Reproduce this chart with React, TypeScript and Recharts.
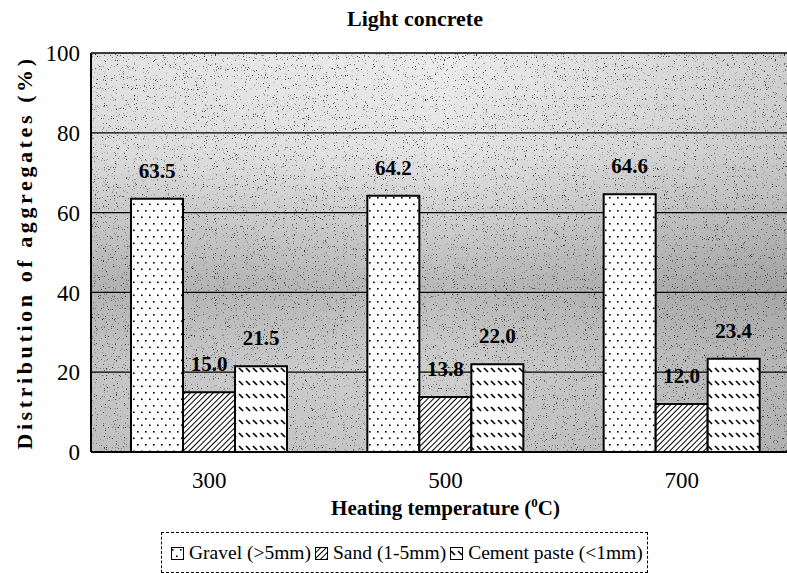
import { BarChart, Bar, XAxis, YAxis, CartesianGrid, LabelList, Legend } from "recharts";

const temps = ["300", "500", "700"];
const gravel = [63.5, 64.2, 64.6];
const sand = [15.0, 13.8, 12.0];
const cement = [21.5, 22.0, 23.4];
const yTicks = [0, 20, 40, 60, 80, 100];

const seriesNames = ["Gravel (>5mm)", "Sand (1-5mm)", "Cement paste (<1mm)"];
const seriesFills = ["url(#dots)", "url(#hatch)", "url(#dashes)"];

const data = temps.map((t, i) => ({ temp: t, gravel: gravel[i], sand: sand[i], cement: cement[i] }));

const FONT = "'Liberation Serif', 'Times New Roman', serif";

function Patterns() {
  return (
    <defs>
      <pattern id="dots" patternUnits="userSpaceOnUse" width="8" height="13">
        <rect width="8" height="13" fill="#fff" />
        <rect x="1" y="2" width="1.6" height="1.6" fill="#000" />
        <rect x="5" y="8.5" width="1.6" height="1.6" fill="#000" />
      </pattern>
      <pattern id="hatch" patternUnits="userSpaceOnUse" width="4" height="4" patternTransform="rotate(45)">
        <rect width="4" height="4" fill="#fff" />
        <line x1="0" y1="0" x2="0" y2="4" stroke="#000" strokeWidth="2" />
      </pattern>
      <pattern id="dashes" patternUnits="userSpaceOnUse" width="7" height="13">
        <rect width="7" height="13" fill="#fff" />
        <line x1="1" y1="4" x2="5" y2="8" stroke="#000" strokeWidth="1.7" />
      </pattern>
      <linearGradient id="bgGrad" x1="0" y1="0" x2="0" y2="1">
        <stop offset="0" stopColor="#ececec" />
        <stop offset="0.25" stopColor="#e4e4e4" />
        <stop offset="0.58" stopColor="#bababa" />
        <stop offset="0.8" stopColor="#cecece" />
        <stop offset="1" stopColor="#c8c8c8" />
      </linearGradient>
      <linearGradient id="bgShade" x1="0" y1="0" x2="1" y2="0">
        <stop offset="0" stopColor="#000" stopOpacity="0.04" />
        <stop offset="0.5" stopColor="#000" stopOpacity="0" />
        <stop offset="1" stopColor="#000" stopOpacity="0.12" />
      </linearGradient>
      <filter id="noiseF" x="0" y="0" width="100%" height="100%">
        <feTurbulence type="fractalNoise" baseFrequency="0.9" numOctaves="2" seed="5" />
        <feColorMatrix type="matrix" values="0 0 0 0 0  0 0 0 0 0  0 0 0 0 0  -5 0 0 0 1.75" />
      </filter>
      <pattern id="bgNoise" patternUnits="userSpaceOnUse" x="91" y="53" width="709" height="399">
        <rect width="709" height="399" fill="url(#bgGrad)" />
        <rect width="709" height="399" fill="url(#bgShade)" />
        <rect width="709" height="399" fill="#000" filter="url(#noiseF)" />
      </pattern>
    </defs>
  );
}

function LegendBox() {
  return (
    <div
      style={{
        border: "1px dashed #000",
        padding: "9px 4px 8px 9px",
        display: "flex",
        gap: 4,
        fontFamily: FONT,
        fontSize: 19.5,
        color: "#000",
        whiteSpace: "nowrap",
      }}
    >
      {seriesNames.map((n, i) => (
        <span key={n} style={{ display: "inline-flex", alignItems: "center", gap: 5 }}>
          <svg width="13" height="13">
            <rect x="0.5" y="0.5" width="12" height="12" fill={seriesFills[i]} stroke="#000" strokeWidth="1" />
          </svg>
          {n}
        </span>
      ))}
    </div>
  );
}

function XLabel(props: any) {
  const vb = props.viewBox;
  return (
    <text x={vb.x + vb.width / 2} y={515} textAnchor="middle" fontFamily={FONT} fontWeight="bold" fontSize={21} fill="#000">
      Heating temperature (
      <tspan dy={-8} fontSize={13}>0</tspan>
      <tspan dy={8}>C)</tspan>
    </text>
  );
}

function YLabel(props: any) {
  const vb = props.viewBox;
  const cx = 24;
  const cy = vb.y + vb.height / 2;
  return (
    <text
      x={cx}
      y={cy}
      transform={`rotate(-90, ${cx}, ${cy})`}
      textAnchor="middle"
      dominantBaseline="central"
      fontFamily={FONT}
      fontWeight="bold"
      fontSize={22}
      letterSpacing={3.6}
      fill="#000"
    >
      Distribution of aggregates (%)
    </text>
  );
}

export default function App() {
  const tick = { fontFamily: FONT, fontSize: 23, fill: "#000" };
  const valueLabel = { fontFamily: FONT, fontSize: 21, fontWeight: "bold", fill: "#000" };
  return (
    <div style={{ position: "absolute", left: 0, top: 0, width: 787, height: 573, overflow: "hidden", background: "#fff", fontFamily: FONT }}>
      <div style={{ position: "absolute", left: 0, top: 6, width: 787, textAlign: "center", paddingLeft: 43, boxSizing: "border-box", fontFamily: FONT, fontWeight: "bold", fontSize: 22 }}>
        Light concrete
      </div>
      <BarChart width={810} height={573} data={data} margin={{ top: 53, right: 10, left: 0, bottom: 61 }} barSize={52} barGap={0}>
        <Patterns />
        <CartesianGrid vertical={false} stroke="#000" strokeWidth={1.3} fill="url(#bgNoise)" fillOpacity={1} />
        <XAxis
          dataKey="temp"
          height={60}
          tick={tick}
          tickLine={false}
          tickMargin={14}
          axisLine={{ stroke: "#000", strokeWidth: 2 }}
          label={<XLabel />}
        />
        <YAxis
          width={91}
          domain={[0, 100]}
          ticks={yTicks}
          tick={tick}
          tickLine={false}
          tickMargin={5}
          axisLine={{ stroke: "#000", strokeWidth: 2 }}
          label={<YLabel />}
        />
        <Legend
          layout="horizontal"
          verticalAlign="middle"
          align="center"
          wrapperStyle={{ position: "absolute", left: 161, top: 532, width: "auto" }}
          content={() => <LegendBox />}
        />
        <Bar dataKey="gravel" name={seriesNames[0]} fill={seriesFills[0]} stroke="#000" strokeWidth={2} isAnimationActive={false}>
          <LabelList dataKey="gravel" position="top" offset={21} formatter={(v: any) => Number(v).toFixed(1)} style={valueLabel} />
        </Bar>
        <Bar dataKey="sand" name={seriesNames[1]} fill={seriesFills[1]} stroke="#000" strokeWidth={2} isAnimationActive={false}>
          <LabelList dataKey="sand" position="top" offset={21} formatter={(v: any) => Number(v).toFixed(1)} style={valueLabel} />
        </Bar>
        <Bar dataKey="cement" name={seriesNames[2]} fill={seriesFills[2]} stroke="#000" strokeWidth={2} isAnimationActive={false}>
          <LabelList dataKey="cement" position="top" offset={21} formatter={(v: any) => Number(v).toFixed(1)} style={valueLabel} />
        </Bar>
      </BarChart>
    </div>
  );
}
